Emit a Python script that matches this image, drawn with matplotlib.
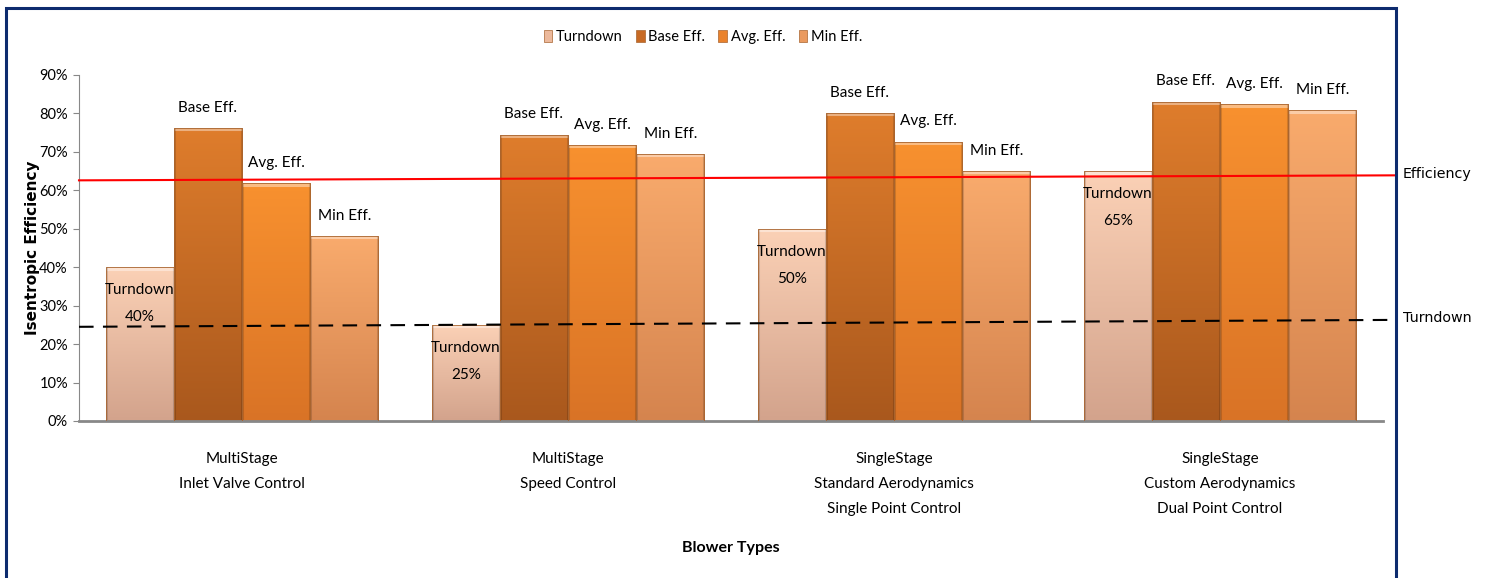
import matplotlib
matplotlib.use("Agg")
import matplotlib.pyplot as plt
import numpy as np
from matplotlib.colors import to_rgb
from matplotlib.patches import Rectangle, Patch
from matplotlib.ticker import PercentFormatter

# data
categories = [
    "MultiStage\nInlet Valve Control",
    "MultiStage\nSpeed Control",
    "SingleStage\nStandard Aerodynamics\nSingle Point Control",
    "SingleStage\nCustom Aerodynamics\nDual Point Control",
]
series_names = ["Turndown", "Base Eff.", "Avg. Eff.", "Min Eff."]
turndown = [0.40, 0.25, 0.50, 0.65]
base_eff = [0.763, 0.745, 0.802, 0.831]
avg_eff = [0.619, 0.718, 0.727, 0.824]
min_eff = [0.482, 0.695, 0.651, 0.808]
bar_labels = ["Base Eff.", "Avg. Eff.", "Min Eff."]
turndown_labels = ["40%", "25%", "50%", "65%"]

# trend lines (start at left axis, run out to the frame)
line_x = [-0.5, 3.54]
efficiency_line = [0.626, 0.639]
turndown_line = [0.245, 0.263]

# gradient colours (top, bottom) per series
grad_colors = [
    ("#fbd1b6", "#d3a38c"),
    ("#df7d2c", "#a9581d"),
    ("#f8912f", "#d97326"),
    ("#f9ab6d", "#d5844e"),
]
legend_colors = ["#ecb99c", "#c86a24", "#ea822c", "#ea9a5f"]

plt.rcParams["font.family"] = ["Lato", "DejaVu Sans"]

fig = plt.figure(figsize=(14.87, 5.78), dpi=100)
ax = fig.add_axes([79 / 1487, 1 - 421 / 578, (1383 - 79) / 1487, (421 - 75) / 578])

x = np.arange(len(categories))
w = 0.209
all_series = [turndown, base_eff, avg_eff, min_eff]
offsets = [-1.5, -0.5, 0.5, 1.5]


def gradient_img(top, bottom, h):
    rows = max(int(h * 384), 8)
    cols = 68
    t = np.linspace(0, 1, rows)[:, None, None]
    c0 = np.array(to_rgb(top))
    c1 = np.array(to_rgb(bottom))
    img = c0 * (1 - t) + c1 * t
    img = np.repeat(img, cols, axis=1)
    img[:4] = np.clip(img[:4] * 0.6 + 0.4, 0, 1)  # bevel highlight
    img[:, :2] *= 0.85
    img[:, -2:] *= 0.85
    return img


for s, vals in enumerate(all_series):
    bars = ax.bar(x + offsets[s] * w, vals, w, color="none",
                  edgecolor="#a8642f", linewidth=0.6, zorder=3)
    for b in bars:
        x0, h = b.get_x(), b.get_height()
        im = ax.imshow(gradient_img(*grad_colors[s], h),
                       extent=[x0, x0 + b.get_width(), 0, h],
                       aspect="auto", zorder=2, interpolation="bilinear")
        im.set_clip_path(b)

ax.set_xlim(-0.5, 3.5)
ax.set_ylim(0, 0.9)

# text labels
for i in range(len(categories)):
    for s, vals in enumerate(all_series[1:], start=1):
        ax.annotate(bar_labels[s - 1], (x[i] + offsets[s] * w, vals[i]),
                    xytext=(0, 14.5), textcoords="offset points",
                    ha="center", va="center", fontsize=11, zorder=6)
    ax.annotate("Turndown", (x[i] + offsets[0] * w, turndown[i]),
                xytext=(0, -16.5), textcoords="offset points",
                ha="center", va="center", fontsize=11, zorder=6)
    ax.annotate(turndown_labels[i], (x[i] + offsets[0] * w, turndown[i]),
                xytext=(0, -36), textcoords="offset points",
                ha="center", va="center", fontsize=11, zorder=6)

ax.plot(line_x, efficiency_line, color="#ff0000", lw=1.5, zorder=5, clip_on=False)
ax.plot(line_x, turndown_line, color="black", lw=1.5, ls=(0, (7, 4.5)),
        zorder=5, clip_on=False)
fig.text(1403 / 1487, 1 - 174 / 578, "Efficiency", family="DejaVu Sans",
         fontsize=10.3, va="center", ha="left")
fig.text(1403 / 1487, 1 - 318 / 578, "Turndown", family="DejaVu Sans",
         fontsize=10.3, va="center", ha="left")

# axes styling
ax.yaxis.set_major_locator(plt.MultipleLocator(0.1))
ax.yaxis.set_major_formatter(PercentFormatter(1.0, decimals=0))
ax.tick_params(axis="y", labelsize=10.5, length=4, color="#888888", pad=4)
ax.set_xticks(x)
ax.set_xticklabels(categories, fontsize=11, linespacing=2.0)
ax.tick_params(axis="x", length=0, pad=22.5)
for sp in ["top", "right"]:
    ax.spines[sp].set_visible(False)
ax.spines["left"].set_color("#888888")
ax.spines["bottom"].set_color("#888888")
ax.spines["bottom"].set_linewidth(2)

ax.set_ylabel("Isentropic Efficiency", family="DejaVu Sans", fontweight="bold",
              fontsize=11)
ax.yaxis.set_label_coords(-0.0299, 0.5)
fig.text(731 / 1487, 1 - 548 / 578, "Blower Types", fontweight="bold",
         fontsize=11.5, ha="center", va="center")

handles = [Patch(facecolor=c, edgecolor="#a8642f", linewidth=0.5)
           for c in legend_colors]
fig.legend(handles, series_names, loc="center",
           bbox_to_anchor=(703 / 1487, 1 - 37 / 578), ncol=4, frameon=False,
           fontsize=10.5, handlelength=0.6, handleheight=0.9,
           handletextpad=0.25, columnspacing=0.9)

# outer frame
fig.patches.append(Rectangle((6 / 1487, -0.05), (1396 - 6) / 1487, 1.05 - 8 / 578,
                             transform=fig.transFigure, fill=False,
                             edgecolor="#0d2b6e", linewidth=2.2))

fig.savefig("out.png", dpi=100)
